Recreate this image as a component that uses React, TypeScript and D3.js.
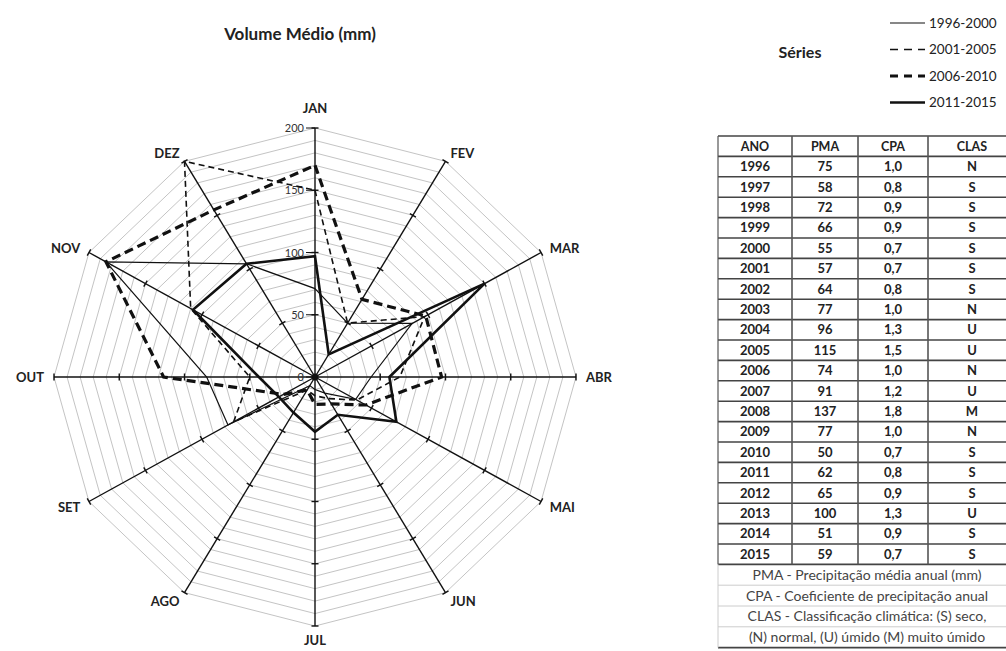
import React from "react";
import * as d3 from "d3";

// Monthly mean rainfall (mm) per five-year period
const MONTHS = ["JAN", "FEV", "MAR", "ABR", "MAI", "JUN", "JUL", "AGO", "SET", "OUT", "NOV", "DEZ"];
const SERIES = ["1996-2000", "2001-2005", "2006-2010", "2011-2015"];
const P1996_2000 = [71, 50, 86, 43, 36, 15, 10, 8, 77, 83, 185, 105];
const P2001_2005 = [150, 50, 97, 65, 37, 20, 15, 12, 72, 50, 110, 200];
const P2006_2010 = [170, 72, 98, 97, 45, 25, 22, 12, 28, 116, 185, 155];
const P2011_2015 = [97, 21, 150, 57, 72, 35, 44, 33, 32, 43, 108, 105];
const TICKS = [0, 50, 100, 150, 200];

// Annual table
const ANO = ["1996", "1997", "1998", "1999", "2000", "2001", "2002", "2003", "2004", "2005",
  "2006", "2007", "2008", "2009", "2010", "2011", "2012", "2013", "2014", "2015"];
const PMA = [75, 58, 72, 66, 55, 57, 64, 77, 96, 115, 74, 91, 137, 77, 50, 62, 65, 100, 51, 59];
const CPA = ["1,0", "0,8", "0,9", "0,9", "0,7", "0,7", "0,8", "1,0", "1,3", "1,5",
  "1,0", "1,2", "1,8", "1,0", "0,7", "0,8", "0,9", "1,3", "0,9", "0,7"];
const CLAS = ["N", "S", "S", "S", "S", "S", "S", "N", "U", "U", "N", "U", "M", "N", "S", "S", "S", "U", "S", "S"];
const HEADERS = ["ANO", "PMA", "CPA", "CLAS"];
const NOTES = [
  "PMA - Precipitação média anual (mm)",
  "CPA - Coeficiente de precipitação anual",
  "CLAS - Classificação climática: (S) seco,",
  "(N) normal, (U) úmido (M) muito úmido",
];

const FONT = "Lato, 'Noto Sans', sans-serif";

const styles = [
  { width: 1.2, dash: "none" },
  { width: 1.6, dash: "6,4" },
  { width: 3.2, dash: "9,5" },
  { width: 2.6, dash: "none" },
];

export default function App() {
  const W = 1006, H = 651;
  const cx = 315, cy = 377, rx = 261, ry = 249;
  const r = d3.scaleLinear().domain([0, 200]).range([0, 1]);
  const ang = d3.scalePoint<string>().domain(MONTHS).range([0, (2 * Math.PI * 11) / 12]);
  const pt = (m: string, v: number): [number, number] => {
    const a = ang(m) as number;
    return [cx + Math.sin(a) * rx * r(v), cy - Math.cos(a) * ry * r(v)];
  };
  const line = d3.line().curve(d3.curveLinearClosed);
  const rings = d3.range(10, 201, 10);
  const data = [P1996_2000, P2001_2005, P2006_2010, P2011_2015];

  // table geometry (right edge runs past the page)
  const colX = [718, 792, 858, 928, 1016];
  const rowH = 20.4;
  const top = 136;
  const bodyTop = top + rowH;
  const notesTop = bodyTop + ANO.length * rowH;
  const notesH = 20.8;
  const tableBottom = notesTop + NOTES.length * notesH;

  return (
    <svg width={W} height={H} style={{ position: "absolute", left: 0, top: 0, background: "#fff" }} fontFamily={FONT}>
      <rect width={W} height={H} fill="#fff" />
      <text x={300} y={40} textAnchor="middle" fontSize={17} fontWeight="bold" fill="#222">Volume Médio (mm)</text>

      {/* grid rings */}
      {rings.map((v) => (
        <path key={v} d={line(MONTHS.map((m) => pt(m, v))) || ""} fill="none" stroke="#c4c4c4" strokeWidth={1} />
      ))}

      {/* axes with ticks */}
      {MONTHS.map((m) => {
        const a = ang(m) as number;
        const [x2, y2] = pt(m, 200);
        const ux = Math.cos(a), uy = Math.sin(a);
        return (
          <g key={m}>
            <line x1={cx} y1={cy} x2={x2} y2={y2} stroke="#111" strokeWidth={1.4} />
            {TICKS.slice(1).map((t) => {
              const [tx, ty] = pt(m, t);
              return <line key={t} x1={tx - ux * 3.5} y1={ty - uy * 3.5} x2={tx + ux * 3.5} y2={ty + uy * 3.5} stroke="#111" strokeWidth={1.4} />;
            })}
          </g>
        );
      })}

      {/* value labels on JAN axis */}
      {TICKS.map((t) => {
        const [tx, ty] = pt("JAN", t);
        return (
          <g key={t}>
            <line x1={tx - 9} y1={ty} x2={tx} y2={ty} stroke="#111" strokeWidth={1} />
            <text x={tx - 11} y={ty + 4} textAnchor="end" fontSize={11} fill="#333">{t}</text>
          </g>
        );
      })}

      {/* month labels */}
      {MONTHS.map((m) => {
        const a = ang(m) as number;
        const [x, y] = pt(m, 200);
        const s = Math.sin(a), c = Math.cos(a);
        const vertical = Math.abs(s) < 0.1;
        const anchor = vertical ? "middle" : s > 0 ? "start" : "end";
        const dx = s * 10;
        const dy = vertical ? (c > 0 ? -15 : 19) : -c * 10 + 5;
        return (
          <text key={m} x={x + dx} y={y + dy} textAnchor={anchor} fontSize={13} fontWeight="bold" fill="#222">{m}</text>
        );
      })}

      {/* series */}
      {data.map((vals, i) => (
        <path key={SERIES[i]} d={line(MONTHS.map((m, j) => pt(m, vals[j]))) || ""} fill="none"
          stroke="#111" strokeWidth={styles[i].width} strokeDasharray={styles[i].dash} strokeLinejoin="miter" />
      ))}
      <circle cx={cx} cy={cy} r={3.5} fill="#111" />

      {/* legend */}
      <text x={800} y={58} textAnchor="middle" fontSize={16} fontWeight="bold" fill="#222">Séries</text>
      {SERIES.map((s, i) => {
        const y = 23 + i * 26.5;
        return (
          <g key={s}>
            <line x1={890} x2={925} y1={y} y2={y} stroke="#111" strokeWidth={styles[i].width} strokeDasharray={i === 1 || i === 2 ? "8,6" : "none"} />
            <text x={929} y={y + 4.5} fontSize={13.5} fill="#222">{s}</text>
          </g>
        );
      })}

      {/* table */}
      <g fill="#222">
        {HEADERS.map((h, k) => (
          <text key={h} x={(colX[k] + colX[k + 1]) / 2} y={top + rowH / 2 + 4.5} textAnchor="middle" fontWeight="bold" fontSize={12.5}>{h}</text>
        ))}
        {ANO.map((a, i) => {
          const y = bodyTop + i * rowH + rowH / 2 + 4.5;
          const cells = [a, String(PMA[i]), CPA[i], CLAS[i]];
          return cells.map((c, k) => (
            <text key={a + k} x={(colX[k] + colX[k + 1]) / 2} y={y} textAnchor="middle" fontWeight="bold" fontSize={13}>{c}</text>
          ));
        })}
        {d3.range(ANO.length + 2).map((i) => (
          <line key={"h" + i} x1={colX[0]} x2={colX[4]} y1={top + i * rowH} y2={top + i * rowH} stroke="#444" strokeWidth={1.6} />
        ))}
        {colX.map((x, k) => (
          <line key={"v" + k} x1={x} x2={x} y1={top} y2={notesTop} stroke="#555" strokeWidth={k === 0 ? 1.2 : 1.6} />
        ))}
        {NOTES.map((n, i) => (
          <g key={n}>
            <text x={(colX[0] + colX[4]) / 2} y={notesTop + i * notesH + notesH / 2 + 5} textAnchor="middle" fontSize={14} fill="#444">{n}</text>
            <line x1={colX[0]} x2={colX[4]} y1={notesTop + (i + 1) * notesH} y2={notesTop + (i + 1) * notesH} stroke={i === 3 ? "#444" : "#ccc"} strokeWidth={i === 3 ? 1.6 : 1} />
          </g>
        ))}
        <line x1={colX[0]} x2={colX[0]} y1={notesTop} y2={tableBottom} stroke="#ccc" />
      </g>
    </svg>
  );
}
